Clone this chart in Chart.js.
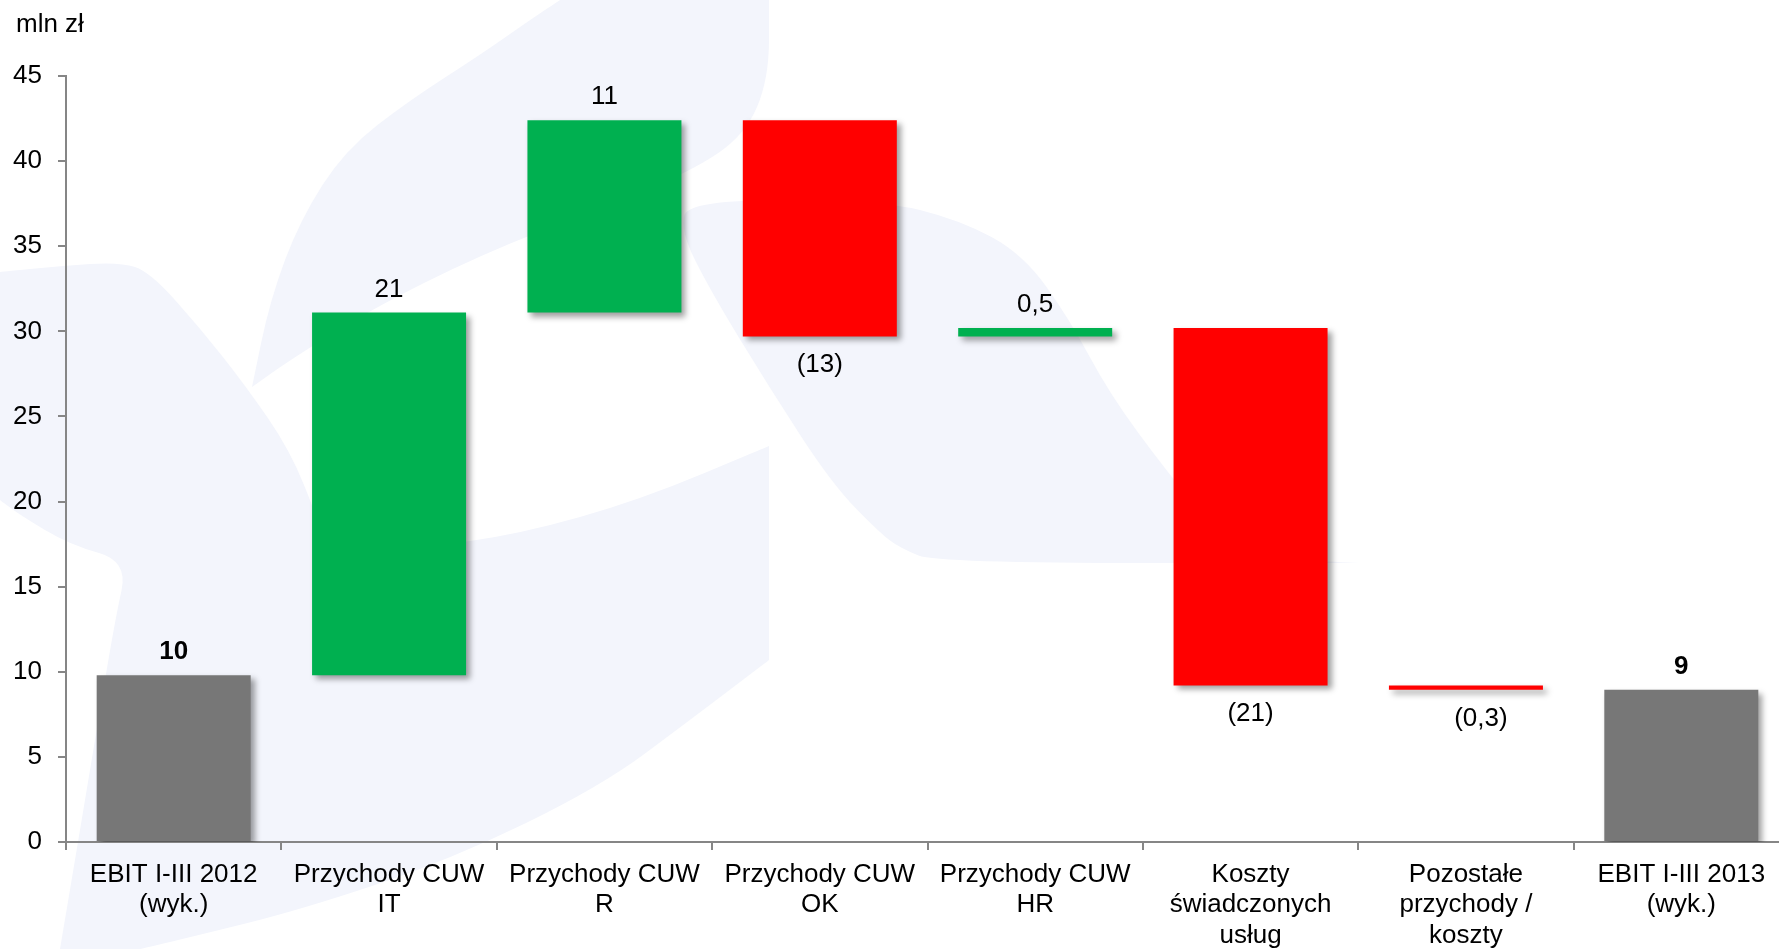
<!DOCTYPE html>
<html>
<head>
<meta charset="utf-8">
<title>EBIT I-III 2012 - 2013</title>
<script src="https://cdn.jsdelivr.net/npm/chart.js@4.4.0/dist/chart.umd.min.js"></script>
<style>
html, body { margin: 0; padding: 0; background: #fff; overflow: hidden; }
#wrap { width: 1789px; height: 949px; position: relative; }
</style>
</head>
<body>
<div id="wrap"><canvas id="chart"></canvas></div>
<script>
// data
const categories = [
  ['EBIT I-III 2012', '(wyk.)'],
  ['Przychody CUW', 'IT'],
  ['Przychody CUW', 'R'],
  ['Przychody CUW', 'OK'],
  ['Przychody CUW', 'HR'],
  ['Koszty', 'świadczonych', 'usług'],
  ['Pozostałe', 'przychody /', 'koszty'],
  ['EBIT I-III 2013', '(wyk.)']
];
const barStart = [0, 9.8, 31.1, 42.4, 29.7, 30.2, 9.2, 0];
const barEnd = [9.8, 31.1, 42.4, 29.7, 30.2, 9.2, 8.95, 8.95];
const barKind = ['total', 'up', 'up', 'down', 'up', 'down', 'down', 'total'];
const valueLabels = ['10', '21', '11', '(13)', '0,5', '(21)', '(0,3)', '9'];
const yMin = 0, yMax = 45, yStep = 5;
const unitLabel = 'mln zł';

const FONT = "'Liberation Sans', Arial, sans-serif";
const kindColor = { total: '#777777', up: '#00b050', down: '#ff0000' };
const labelNudgeX = { 6: 15 };

// faint logo in the background (repeated points = sharp corners)
const bgShapes = [
  [[560,0],[560,0],[769,0],[769,0],[769,79],[745,135],[690,172],[600,208],[480,255],[370,310],[290,360],[252,387],[252,387],
   [270,300],[300,220],[345,150],[410,100],[480,55],[530,20]],
  [[0,272],[0,272],[60,266],[120,262],[150,272],[200,328],[245,385],[290,450],[318,520],[330,555],[330,555],
   [420,548],[520,534],[640,500],[769,446],[769,446],[769,660],[769,660],[690,720],[600,787],[450,860],[300,910],
   [191,937],[140,949],[140,949],[60,949],[60,949],[75,860],[95,740],[115,620],[128,561],[70,545],[20,515],[0,500],[0,500]],
  [[689,200],[880,200],[960,220],[1023,254],[1070,320],[1109,393],[1167,472],[1224,540],[1290,560],
   [1362,563],[1362,563],[937,563],[900,548],[880,533],[832,484],[769,387],[710,290],[680,230]]
];

function smoothPath(ctx, pts) {
  const n = pts.length;
  const mid = (a, b) => [(a[0] + b[0]) / 2, (a[1] + b[1]) / 2];
  let m = mid(pts[n - 1], pts[0]);
  ctx.moveTo(m[0], m[1]);
  for (let i = 0; i < n; i++) {
    const p = pts[i];
    const q = mid(p, pts[(i + 1) % n]);
    ctx.quadraticCurveTo(p[0], p[1], q[0], q[1]);
  }
  ctx.closePath();
}

const backgroundPlugin = {
  id: 'background',
  beforeDraw(chart) {
    const ctx = chart.ctx;
    ctx.save();
    ctx.fillStyle = '#ffffff';
    ctx.fillRect(0, 0, chart.width, chart.height);
    ctx.fillStyle = '#f3f5fc';
    bgShapes.forEach(s => { ctx.beginPath(); smoothPath(ctx, s); ctx.fill(); });
    ctx.restore();
  }
};

const shadowPlugin = {
  id: 'barShadow',
  beforeDatasetsDraw(chart) {
    const ctx = chart.ctx;
    ctx.save();
    ctx.shadowColor = 'rgba(0,0,0,0.38)';
    ctx.shadowBlur = 6;
    ctx.shadowOffsetX = 4;
    ctx.shadowOffsetY = 4;
  },
  afterDatasetsDraw(chart) {
    chart.ctx.restore();
  }
};

const labelPlugin = {
  id: 'valueLabels',
  afterDraw(chart) {
    const ctx = chart.ctx;
    const meta = chart.getDatasetMeta(0);
    ctx.save();
    ctx.fillStyle = '#000';
    ctx.textAlign = 'center';
    ctx.textBaseline = 'alphabetic';
    meta.data.forEach((bar, i) => {
      const top = Math.min(bar.y, bar.base);
      const bottom = Math.max(bar.y, bar.base);
      const bold = barKind[i] === 'total';
      ctx.font = (bold ? 'bold ' : '') + '26px ' + FONT;
      const x = bar.x + (labelNudgeX[i] || 0);
      if (barKind[i] === 'down') {
        ctx.fillText(valueLabels[i], x, bottom + 36);
      } else {
        ctx.fillText(valueLabels[i], x, top - 16);
      }
    });
    // unit label
    ctx.textAlign = 'left';
    ctx.font = '26px ' + FONT;
    ctx.fillText(unitLabel, 16, 32);
    ctx.restore();
  }
};

const ctx = document.getElementById('chart').getContext('2d');
new Chart(ctx, {
  type: 'bar',
  data: {
    labels: categories,
    datasets: [{
      data: barStart.map((s, i) => [s, barEnd[i]]),
      backgroundColor: barKind.map(k => kindColor[k]),
      borderWidth: 0,
      borderSkipped: false,
      barPercentage: 0.715,
      categoryPercentage: 1.0
    }]
  },
  options: {
    responsive: true,
    maintainAspectRatio: false,
    animation: false,
    layout: { padding: { top: 76, left: 0, right: 0, bottom: 0 } },
    plugins: {
      legend: { display: false },
      title: { display: false },
      tooltip: { enabled: false }
    },
    scales: {
      x: {
        offset: true,
        grid: {
          offset: true,
          drawOnChartArea: false,
          drawTicks: true,
          tickLength: 8,
          color: '#868686',
          lineWidth: 2
        },
        border: { display: true, color: '#868686', width: 2 },
        ticks: {
          color: '#000',
          padding: 9,
          maxRotation: 0,
          autoSkip: false,
          font: { family: FONT, size: 26, lineHeight: 1.18 }
        },
        afterFit(scale) { scale.height = 107; }
      },
      y: {
        min: yMin,
        max: yMax,
        grid: {
          drawOnChartArea: false,
          drawTicks: true,
          tickLength: 8,
          color: '#868686',
          lineWidth: 2
        },
        border: { display: true, color: '#868686', width: 2 },
        ticks: {
          stepSize: yStep,
          color: '#000',
          padding: 16,
          font: { family: FONT, size: 26 }
        },
        afterFit(scale) { scale.width = 66; }
      }
    }
  },
  plugins: [backgroundPlugin, shadowPlugin, labelPlugin]
});
</script>
</body>
</html>
